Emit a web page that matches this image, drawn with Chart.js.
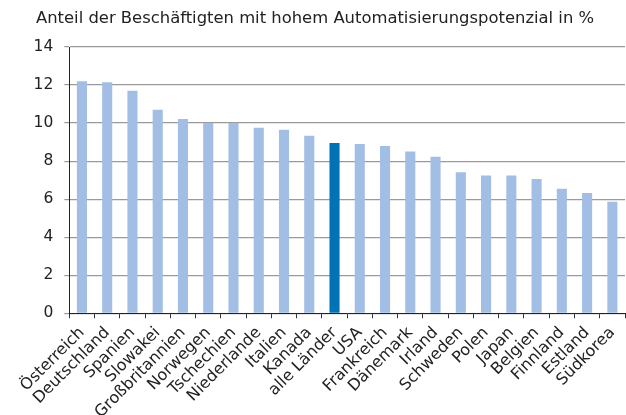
<!DOCTYPE html>
<html lang="de">
<head>
<meta charset="utf-8">
<title>Automatisierungspotenzial</title>
<script src="https://cdn.jsdelivr.net/npm/chart.js@4"></script>
<style>
    html, body { margin: 0; padding: 0; background: #fff; overflow: hidden; }
    #wrap { position: relative; width: 626px; height: 415px; }
    #titel {
        position: absolute; left: 36px; top: 9px; margin: 0;
        font: 16.4px/18.4px "DejaVu Sans", sans-serif; color: #222; white-space: nowrap;
    }
</style>
</head>
<body>
<div id="wrap">
    <p id="titel">Anteil der Beschäftigten mit hohem Automatisierungspotenzial in %</p>
    <canvas id="grafik"></canvas>
</div>
<script>
// ==================== DATEN ====================
const laender = ['Österreich', 'Deutschland', 'Spanien', 'Slowakei', 'Großbritannien', 'Norwegen',
    'Tschechien', 'Niederlande', 'Italien', 'Kanada', 'alle Länder', 'USA', 'Frankreich', 'Dänemark',
    'Irland', 'Schweden', 'Polen', 'Japan', 'Belgien', 'Finnland', 'Estland', 'Südkorea'];
const anteile = [12.2, 12.15, 11.7, 10.7, 10.22, 10.0, 10.0, 9.75, 9.65, 9.33, 8.95, 8.9, 8.79, 8.51,
    8.23, 7.41, 7.24, 7.24, 7.06, 6.55, 6.33, 5.86];
const hervorgehoben = 'alle Länder';

// ==================== FARBEN ====================
const farbeHell = '#a3bee5';
const farbeDunkel = '#0072b6';
const farben = laender.map(l => l === hervorgehoben ? farbeDunkel : farbeHell);

Chart.defaults.font.family = '"DejaVu Sans", sans-serif';
Chart.defaults.color = '#222';

// ==================== DIAGRAMM ====================
const ctx = document.getElementById('grafik').getContext('2d');
new Chart(ctx, {
    type: 'bar',
    data: {
        labels: laender,
        datasets: [{ data: anteile, backgroundColor: farben, barPercentage: 0.4, categoryPercentage: 1 }]
    },
    options: {
        responsive: true,
        maintainAspectRatio: false,
        animation: false,
        layout: { padding: { left: 0, right: 1, top: 47, bottom: 0 } },
        plugins: {
            legend: { display: false },
            tooltip: { enabled: false }
        },
        scales: {
            x: {
                grid: { offset: true, drawOnChartArea: false, drawTicks: true, tickLength: 5, color: '#333' },
                border: { color: '#222', width: 1 },
                ticks: { minRotation: 45, maxRotation: 45, autoSkip: false, padding: 5, font: { size: 16 } },
                afterFit: axis => {
                    axis.height = 101.7;
                    // kein Extra-Rand für die gedrehten Beschriftungen
                    axis.paddingLeft = 0;
                    axis.paddingRight = 0;
                }
            },
            y: {
                min: 0,
                max: 14,
                ticks: { stepSize: 2, padding: 11, font: { size: 15.5 } },
                grid: { color: '#9a9a9a', lineWidth: 1.2, tickLength: 5 },
                border: { color: '#222', width: 1 },
                afterFit: axis => { axis.width = 69.3; }
            }
        }
    }
});
</script>
</body>
</html>
